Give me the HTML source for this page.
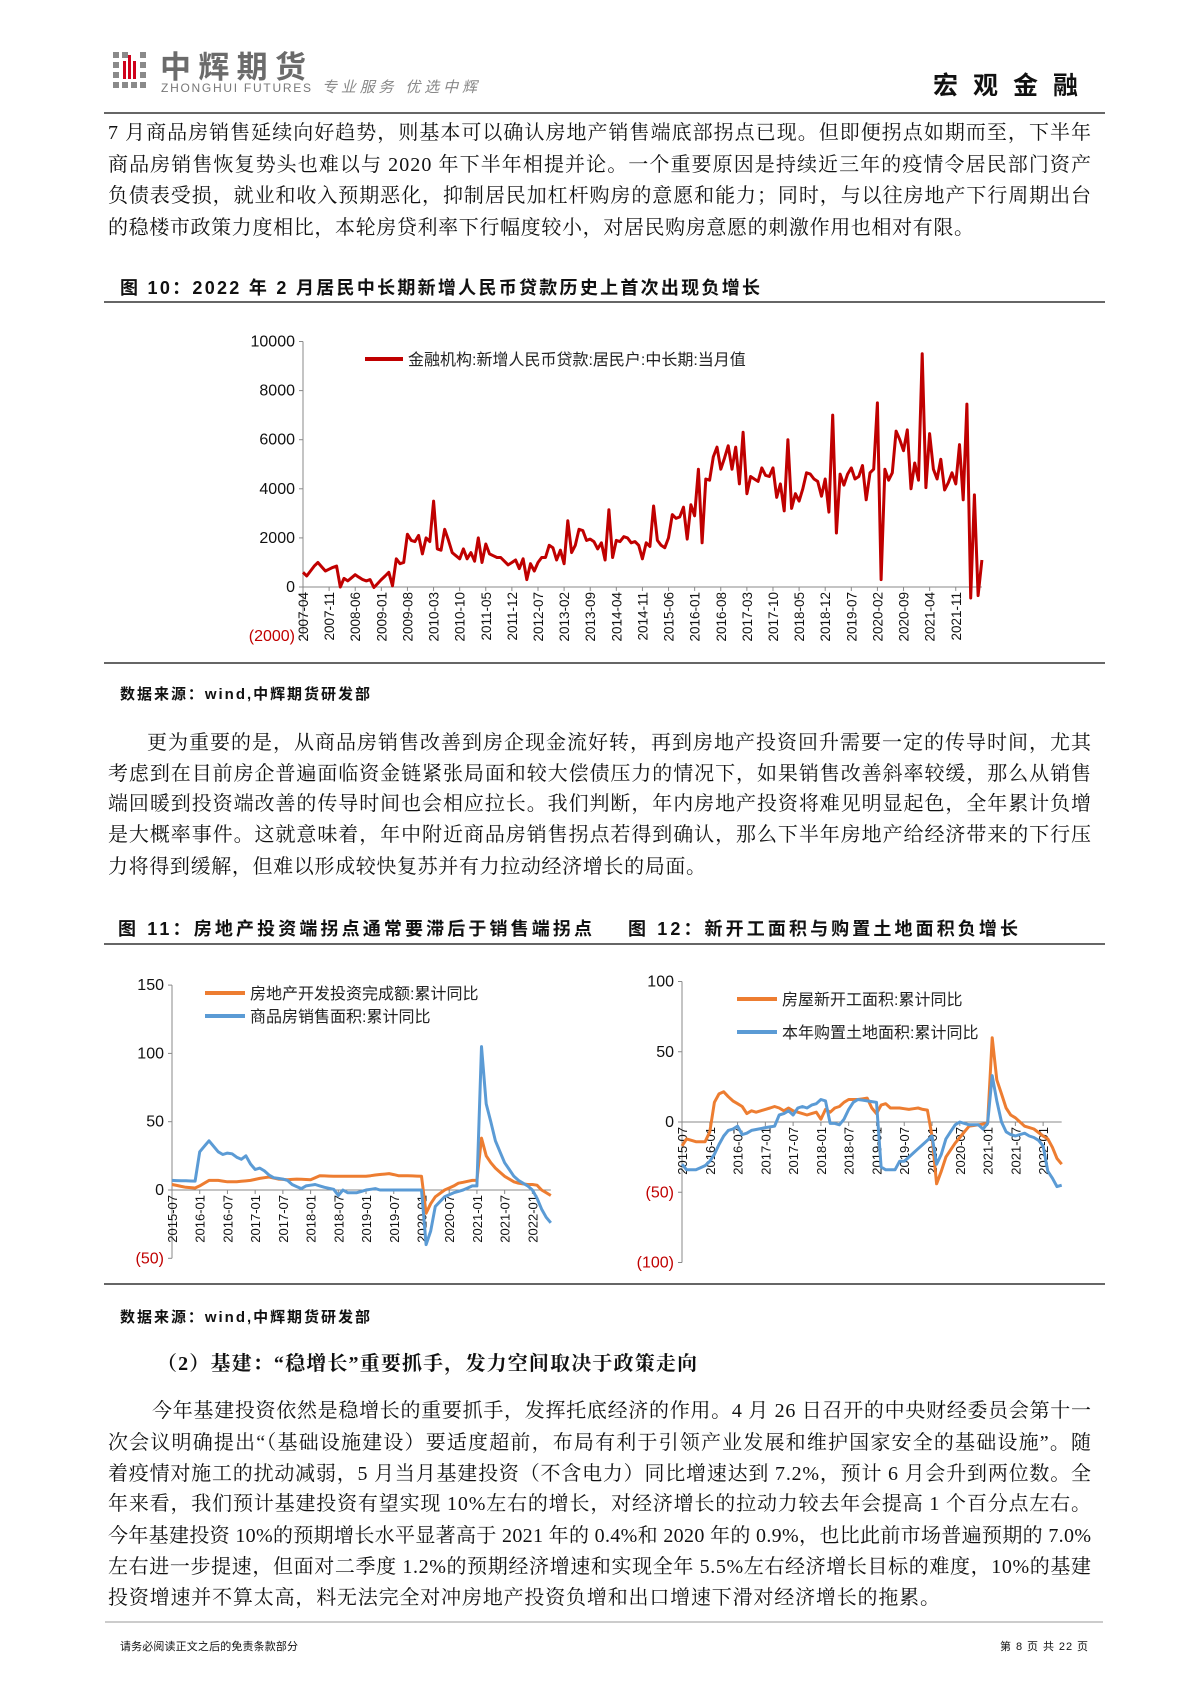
<!DOCTYPE html>
<html><head><meta charset="utf-8">
<style>
html,body{margin:0;padding:0;background:#fff;}
svg{display:block;}
.p{font-family:"Liberation Serif","Noto Serif CJK SC",serif;font-size:20px;fill:#111;}
.b{font-family:"Liberation Sans","Noto Sans CJK SC",sans-serif;font-weight:bold;fill:#111;}
.t{font-family:"Liberation Sans","Noto Sans CJK SC",sans-serif;fill:#111;}
</style></head><body>
<svg id="s" width="1190" height="1683" viewBox="0 0 1190 1683" xmlns="http://www.w3.org/2000/svg">
<g fill="#8a8a8a">
<rect x="113" y="52" width="6" height="6"/><rect x="122" y="52" width="6" height="6"/><rect x="140" y="52" width="6" height="6"/>
<rect x="113" y="62" width="6" height="6"/><rect x="140" y="62" width="6" height="6"/>
<rect x="113" y="72" width="6" height="6"/><rect x="140" y="72" width="6" height="6"/>
<rect x="113" y="82" width="6" height="6"/><rect x="122" y="82" width="6" height="6"/><rect x="131" y="82" width="6" height="6"/><rect x="140" y="82" width="6" height="6"/>
</g>
<g fill="#d0021b"><rect x="123" y="61" width="3" height="18"/><rect x="128" y="55" width="3" height="24"/><rect x="133" y="61" width="3" height="18"/></g>
<text x="160" y="78" class="t" font-size="31" font-weight="bold" style="fill:#6b6b6b" textLength="146">中辉期货</text>
<text x="161" y="92" class="t" font-size="12" style="fill:#777" textLength="150">ZHONGHUI FUTURES</text>
<text x="322" y="92" class="t" font-size="15" font-style="italic" style="fill:#888" textLength="155">专业服务 优选中辉</text>
<text x="933" y="94" class="b" font-size="25" textLength="145">宏观金融</text>
<line x1="104" y1="113" x2="1105" y2="113" stroke="#333" stroke-width="1.5"/>
<text class="p" x="108" y="139" textLength="983" lengthAdjust="spacing">7 月商品房销售延续向好趋势，则基本可以确认房地产销售端底部拐点已现。但即便拐点如期而至，下半年</text>
<text class="p" x="108" y="171" textLength="983" lengthAdjust="spacing">商品房销售恢复势头也难以与 2020 年下半年相提并论。一个重要原因是持续近三年的疫情令居民部门资产</text>
<text class="p" x="108" y="202" textLength="983" lengthAdjust="spacing">负债表受损，就业和收入预期恶化，抑制居民加杠杆购房的意愿和能力；同时，与以往房地产下行周期出台</text>
<text class="p" x="108" y="234" textLength="866" lengthAdjust="spacing">的稳楼市政策力度相比，本轮房贷利率下行幅度较小，对居民购房意愿的刺激作用也相对有限。</text>
<text x="120" y="294" class="b" font-size="18" textLength="640">图 10：2022 年 2 月居民中长期新增人民币贷款历史上首次出现负增长</text>
<line x1="104" y1="302" x2="1105" y2="302" stroke="#333" stroke-width="1.5"/>
<g id="c10"></g>
<line x1="104" y1="663" x2="1105" y2="663" stroke="#333" stroke-width="1.5"/>
<text x="120" y="699" class="b" font-size="15" textLength="250">数据来源：wind,中辉期货研发部</text>
<text class="p" x="147" y="749" textLength="944" lengthAdjust="spacing">更为重要的是，从商品房销售改善到房企现金流好转，再到房地产投资回升需要一定的传导时间，尤其</text>
<text class="p" x="108" y="780" textLength="983" lengthAdjust="spacing">考虑到在目前房企普遍面临资金链紧张局面和较大偿债压力的情况下，如果销售改善斜率较缓，那么从销售</text>
<text class="p" x="108" y="810" textLength="983" lengthAdjust="spacing">端回暖到投资端改善的传导时间也会相应拉长。我们判断，年内房地产投资将难见明显起色，全年累计负增</text>
<text class="p" x="108" y="841" textLength="983" lengthAdjust="spacing">是大概率事件。这就意味着，年中附近商品房销售拐点若得到确认，那么下半年房地产给经济带来的下行压</text>
<text class="p" x="108" y="873" textLength="598" lengthAdjust="spacing">力将得到缓解，但难以形成较快复苏并有力拉动经济增长的局面。</text>
<text x="118" y="935" class="b" font-size="18" textLength="474">图 11：房地产投资端拐点通常要滞后于销售端拐点</text>
<text x="628" y="935" class="b" font-size="18" textLength="390">图 12：新开工面积与购置土地面积负增长</text>
<line x1="104" y1="944" x2="1105" y2="944" stroke="#333" stroke-width="1.5"/>
<g id="c11"></g><g id="c12"></g>
<line x1="104" y1="1284" x2="1105" y2="1284" stroke="#333" stroke-width="1.5"/>
<text x="120" y="1322" class="b" font-size="15" textLength="250">数据来源：wind,中辉期货研发部</text>
<text x="157" y="1370" class="p" font-weight="bold" font-size="20" textLength="540">（2）基建：“稳增长”重要抓手，发力空间取决于政策走向</text>
<text class="p" x="152" y="1417" textLength="939" lengthAdjust="spacing">今年基建投资依然是稳增长的重要抓手，发挥托底经济的作用。4 月 26 日召开的中央财经委员会第十一</text>
<text class="p" x="108" y="1449" textLength="983" lengthAdjust="spacing">次会议明确提出“（基础设施建设）要适度超前，布局有利于引领产业发展和维护国家安全的基础设施”。随</text>
<text class="p" x="108" y="1480" textLength="983" lengthAdjust="spacing">着疫情对施工的扰动减弱，5 月当月基建投资（不含电力）同比增速达到 7.2%，预计 6 月会升到两位数。全</text>
<text class="p" x="108" y="1510" textLength="983" lengthAdjust="spacing">年来看，我们预计基建投资有望实现 10%左右的增长，对经济增长的拉动力较去年会提高 1 个百分点左右。</text>
<text class="p" x="108" y="1542" textLength="983" lengthAdjust="spacing">今年基建投资 10%的预期增长水平显著高于 2021 年的 0.4%和 2020 年的 0.9%，也比此前市场普遍预期的 7.0%</text>
<text class="p" x="108" y="1573" textLength="983" lengthAdjust="spacing">左右进一步提速，但面对二季度 1.2%的预期经济增速和实现全年 5.5%左右经济增长目标的难度，10%的基建</text>
<text class="p" x="108" y="1604" textLength="832" lengthAdjust="spacing">投资增速并不算太高，料无法完全对冲房地产投资负增和出口增速下滑对经济增长的拖累。</text>
<line x1="105" y1="1622" x2="1103" y2="1622" stroke="#999" stroke-width="1"/>
<text x="120" y="1650" class="t" font-size="11" textLength="178">请务必阅读正文之后的免责条款部分</text>
<text x="1000" y="1650" class="t" font-size="11" textLength="88">第 8 页 共 22 页</text>
</svg>
<script>
var NS="http://www.w3.org/2000/svg";
function el(p,tag,a,txt){var e=document.createElementNS(NS,tag);for(var k in a)e.setAttribute(k,a[k]);if(txt!==undefined)e.textContent=txt;p.appendChild(e);return e;}
function interp(kp,n){var out=[];var keys=Object.keys(kp).map(Number).sort(function(a,b){return a-b});
for(var m=0;m<=n;m++){var i=0;while(i<keys.length-1&&keys[i+1]<m)i++;var a=keys[i],b=keys[Math.min(i+1,keys.length-1)];
if(m<=a){out.push(kp[a]);}else if(m>=b){out.push(kp[b]);}else{out.push(kp[a]+(kp[b]-kp[a])*(m-a)/(b-a));}}return out;}
function chart(g,o){
 el(g,"line",{x1:o.x0,y1:o.yOf(o.ymax),x2:o.x0,y2:o.yOf(o.ymin),stroke:"#888","stroke-width":1});
 for(var v=o.ymin;v<=o.ymax;v+=o.step){var y=o.yOf(v);
  el(g,"line",{x1:o.x0-4,y1:y,x2:o.x0,y2:y,stroke:"#888"});
  var lab=v<0?"("+(-v)+")":String(v);
  el(g,"text",{x:o.x0-8,y:y+5,"text-anchor":"end","font-size":o.fs,"font-family":"Liberation Sans,sans-serif",fill:v<0?"#c00000":"#111"},lab);}
 var y0=o.yOf(0);
 el(g,"line",{x1:o.x0,y1:y0,x2:o.x0+o.n*o.dx,y2:y0,stroke:"#888"});
 for(var m=0;m<=o.lastLab;m+=o.lstep){var x=o.x0+m*o.dx;
  el(g,"line",{x1:x,y1:y0,x2:x,y2:y0+4,stroke:"#888"});
  el(g,"text",{transform:"translate("+(x+5)+","+(y0+5)+") rotate(-90)","text-anchor":"end","font-size":o.xfs,"font-family":"Liberation Sans,sans-serif",fill:"#111"},o.lab(m));}
 o.series.forEach(function(s){var d=interp(s.kp,o.n),pts=[];
  for(var m=0;m<=o.n;m++)pts.push((o.x0+m*o.dx).toFixed(1)+","+o.yOf(d[m]).toFixed(1));
  el(g,"polyline",{points:pts.join(" "),fill:"none",stroke:s.c,"stroke-width":o.sw,"stroke-linejoin":"round"});});
 o.legend.forEach(function(l){el(g,"line",{x1:l.x,y1:l.y,x2:l.x+l.w,y2:l.y,stroke:l.c,"stroke-width":4});
  el(g,"text",{x:l.x+l.w+5,y:l.y+6,"font-size":o.lfs,"font-family":"Liberation Sans,Noto Sans CJK SC,sans-serif",fill:"#222"},l.t);});
}
function ym(start){var y0=parseInt(start.slice(0,4)),m0=parseInt(start.slice(5));return function(k){var t=m0-1+k;var y=y0+Math.floor(t/12),mm=t%12+1;return y+"-"+(mm<10?"0":"")+mm;};}
var r10={0:600,1:450,3:850,4:1000,6:650,8:800,9:850,10:0,11:350,12:250,14:500,16:300,17:250,18:300,19:-20,21:300,23:600,24:50,25:1150,26:950,27:1000,28:2150,29:1900,30:1850,31:2100,32:1350,33:2000,34:1850,35:3500,36:1550,37:1500,38:2350,39:1900,40:1400,42:1150,43:1550,44:1150,45:1400,46:1050,47:2000,48:1000,49:1750,50:1350,52:1200,53:1200,55:900,57:1100,58:750,59:1150,60:300,61:950,62:650,63:1000,64:1200,65:1200,66:1700,67:1600,68:1100,69:1500,70:950,71:2700,72:1400,73:1700,74:2350,75:2300,76:1900,77:1950,78:1850,79:1550,80:1800,81:1100,82:3150,83:1200,84:1900,85:1850,86:2050,87:2000,88:1800,89:1850,90:1700,91:1150,92:1800,93:1650,94:3300,95:1900,96:1700,97:1600,98:2000,99:2950,100:2800,101:2850,102:3250,103:1950,104:3350,105:2900,106:4800,107:1800,108:4400,109:4350,110:5300,111:5700,112:4800,113:5250,114:5750,115:4800,116:5700,117:4200,118:6300,119:3800,120:4500,121:4400,122:4300,123:4850,124:4550,125:4500,126:4850,127:3650,128:4200,129:3100,130:6000,131:3200,132:3800,133:3500,134:4000,135:4650,136:4600,137:4400,138:4300,139:3700,140:4400,141:3050,142:7000,143:2200,144:4600,145:4150,146:4600,147:4850,148:4400,149:4500,150:4950,151:3550,152:4650,153:4800,154:7500,155:300,156:4800,157:4350,158:4650,159:6350,160:6000,161:5550,162:6400,163:4000,164:5050,165:4350,166:9500,167:4050,168:6250,169:4800,170:4400,171:5200,172:3950,173:4250,174:4650,175:4200,176:5800,177:3550,178:7450,179:-450,180:3750,181:-350,182:1100};
chart(document.getElementById("c10"),{x0:303,dx:3.73,n:182,lastLab:175,ymin:-2000,ymax:10000,step:2000,yOf:function(v){return 587-v*0.02455;},fs:16,xfs:13.5,lstep:7,lab:ym("2007-04"),sw:3,lfs:16,
 series:[{kp:r10,c:"#c00000"}],legend:[{x:365,y:359,w:38,c:"#c00000",t:"金融机构:新增人民币贷款:居民户:中长期:当月值"}]});
var o11={0:4,3:2,5:1.5,6:3,8:7,10:7,12:6,14:6,17:7,19:8.5,21:9.5,23:8,25:7.5,27:8,30:7.5,32:10.5,35:10,42:10,44:11,47:12,49:10.5,51:10.5,54:10,55:-17,56:-10,57:-5,59:0,61:3,62:5,65:7,66:7,67:38,68:25,69:20,70:16,71:13,72:10,73:8,74:6,75:5,77:4,78:4,79:3.5,80:0,81:-2,82:-4};
var b11={0:7,5:6.5,6:28,8:36,10:28,11:26,12:27,13:26.5,14:24,15:22.5,16:25,17:19,18:15,19:16,20:14,21:11,22:9,24:8,25:7,26:4,28:1,29:3,31:4,33:2,35:0.5,36:-4,37:0,38:-2,40:-2,42:0,44:1,45:0,54:0,55:-40,56:-30,57:-12,59:-5,61:-2,63:0,65:3,66:3,67:105,68:63,69:50,70:36,71:28,72:20,73:15,74:10,75:7,76:5,77:3,78:0,79:-6,80:-14,81:-20,82:-24};
chart(document.getElementById("c11"),{x0:172,dx:4.62,n:82,lastLab:78,ymin:-50,ymax:150,step:50,yOf:function(v){return 1190-v*1.366;},fs:16,xfs:13,lstep:6,lab:ym("2015-07"),sw:3,lfs:16,
 series:[{kp:o11,c:"#ed7d31"},{kp:b11,c:"#5b9bd5"}],
 legend:[{x:205,y:993,w:40,c:"#ed7d31",t:"房地产开发投资完成额:累计同比"},{x:205,y:1016,w:40,c:"#5b9bd5",t:"商品房销售面积:累计同比"}]});
var o12={0:-17,1:-12,3:-14,5:-14,6:-7,7:14,8:20,9:21.5,10:18,11:15,12:13,13:11,14:6,15:8,16:7,18:9,20:11,21:10,22:8,23:10,24:8,25:7,27:5,28:6,29:7,30:2,31:9,32:7,33:10,34:11,35:14,36:16,38:16,40:17,41:10,42:6,43:12,44:13,45:10,47:10,49:9,51:10,52:9,53:8.5,54:-10,55:-44,56:-35,57:-25,59:-15,61:-7,62:-3,64:-2,66:-1,67:60,68:30,69:20,70:10,71:5,72:3,73:0,74:-3,76:-5,78:-10,79:-12,80:-18,81:-26,82:-30};
var b12={0:-30,1:-34,3:-34,5:-31,6:-28,7:-23,8:-16,9:-10,10:-6,11:-5,12:-3,13:-9,14:-8,15:-6,18:-4,20:-3,21:5,22:6,23:8,24:5,25:10,26:11,27:10,28:12,29:13,30:16,31:15,32:-1,33:-1,34:-2,35:2,36:9,37:14,38:16,40:15,42:14,43:-32,44:-34,46:-34,47:-28,48:-28,50:-22,52:-16,54:-10,55:-30,56:-23,57:-12,59:-2,60:0,62:-2,64:-2,65:-5,66:-1,67:33,68:15,69:0,70:-7,71:-9,72:-10,73:-9,74:-8,75:-10,76:-11,77:-13,78:-17,79:-35,80:-40,81:-46,82:-45};
chart(document.getElementById("c12"),{x0:682,dx:4.63,n:82,lastLab:78,ymin:-100,ymax:100,step:50,yOf:function(v){return 1122-v*1.405;},fs:16,xfs:13,lstep:6,lab:ym("2015-07"),sw:3,lfs:16,
 series:[{kp:o12,c:"#ed7d31"},{kp:b12,c:"#5b9bd5"}],
 legend:[{x:737,y:999,w:40,c:"#ed7d31",t:"房屋新开工面积:累计同比"},{x:737,y:1032,w:40,c:"#5b9bd5",t:"本年购置土地面积:累计同比"}]});
</script>
</body></html>
